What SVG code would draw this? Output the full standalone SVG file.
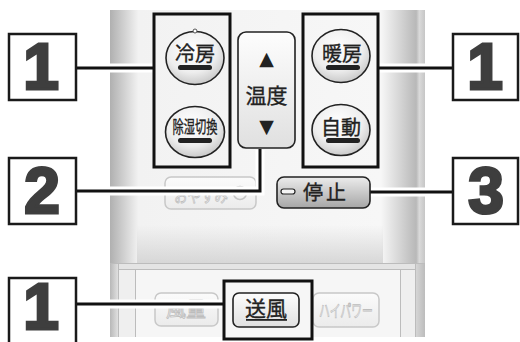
<svg xmlns="http://www.w3.org/2000/svg" width="520" height="342" viewBox="0 0 520 342">
<defs>
<linearGradient id="bodyH" x1="110" y1="0" x2="425" y2="0" gradientUnits="userSpaceOnUse">
<stop offset="0" stop-color="#b0b0b0"/>
<stop offset="0.09" stop-color="#f2f2f2"/>
<stop offset="0.86" stop-color="#f7f7f7"/>
<stop offset="0.972" stop-color="#b8b8b8"/>
<stop offset="0.982" stop-color="#dadada"/>
<stop offset="1" stop-color="#c6c6c6"/>
</linearGradient>
<linearGradient id="bodyV" x1="0" y1="225" x2="0" y2="263" gradientUnits="userSpaceOnUse">
<stop offset="0" stop-color="#d0d0d0" stop-opacity="0"/>
<stop offset="1" stop-color="#d0d0d0" stop-opacity="0.8"/>
</linearGradient>
<linearGradient id="sideL" x1="0" y1="0" x2="1" y2="0">
<stop offset="0" stop-color="#b8b8b8"/>
<stop offset="1" stop-color="#e0e0e0"/>
</linearGradient>
<linearGradient id="sideR" x1="0" y1="0" x2="1" y2="0">
<stop offset="0" stop-color="#d8d8d8"/>
<stop offset="1" stop-color="#bcbcbc"/>
</linearGradient>
<radialGradient id="btnR" cx="0.45" cy="0.35" r="0.7">
<stop offset="0" stop-color="#ffffff"/>
<stop offset="0.6" stop-color="#eeeeee"/>
<stop offset="1" stop-color="#c2c2c2"/>
</radialGradient>
<linearGradient id="btnL" x1="0" y1="0" x2="0" y2="1">
<stop offset="0" stop-color="#fdfdfd"/>
<stop offset="1" stop-color="#e0e0e0"/>
</linearGradient>
<linearGradient id="stopG" x1="0" y1="0" x2="0" y2="1">
<stop offset="0" stop-color="#ececec"/>
<stop offset="1" stop-color="#a6a6a6"/>
</linearGradient>
<linearGradient id="fadeG" x1="0" y1="0" x2="0" y2="1">
<stop offset="0" stop-color="#fbfbfb"/>
<stop offset="1" stop-color="#ebebeb"/>
</linearGradient>
</defs>
<style>
.lbl{fill:#fff;stroke:#1a1a1a;stroke-width:2.5}
.num{font-family:"Liberation Sans",Arial,sans-serif;font-weight:bold;font-size:64px;fill:#3e3e3e;stroke:#3e3e3e;stroke-width:3;text-anchor:middle}
.grp{fill:none;stroke:#111;stroke-width:3}
.halo{fill:none;stroke:#fff;stroke-width:9}
.wire{fill:none;stroke:#111;stroke-width:3}
.cbtn{fill:url(#btnR);stroke:#222;stroke-width:1.6}
.bar{fill:#222}
.jp{font-family:"Noto Sans CJK JP",sans-serif;fill:#222;stroke:#222;stroke-width:0.35;text-anchor:middle;dominant-baseline:central}
.sym{font-family:"DejaVu Sans",sans-serif;fill:#222;text-anchor:middle;dominant-baseline:central}
.fade{fill:url(#fadeG);stroke:#c8c8c8;stroke-width:1.5}
.ftx{font-family:"Noto Sans CJK JP",sans-serif;fill:#f4f4f4;stroke:#bdbdbd;stroke-width:0.8;text-anchor:middle;dominant-baseline:central}
.pl{stroke:#bcbcbc;stroke-width:1;fill:none}
</style>

<g id="remote-body">
<rect x="110" y="10" width="315" height="253" fill="url(#bodyH)"/>
<rect x="137" y="225" width="246" height="38" fill="url(#bodyV)"/>
<rect x="110" y="263" width="315" height="74" fill="#f6f6f6"/>
<rect x="110" y="263" width="315" height="6" fill="#e4e4e4"/>
<rect x="110" y="263" width="8" height="74" fill="url(#sideL)"/>
<rect x="118" y="269" width="17" height="68" fill="#efefef"/>
<rect x="400" y="269" width="15" height="68" fill="#efefef"/>
<rect x="415" y="263" width="10" height="74" fill="url(#sideR)"/>
<line class="pl" x1="110" y1="263.5" x2="425" y2="263.5" stroke="#aaa"/>
<line class="pl" x1="118" y1="269.5" x2="415" y2="269.5"/>
<line class="pl" x1="118.5" y1="263" x2="118.5" y2="337"/>
<line class="pl" x1="135.5" y1="269" x2="135.5" y2="337"/>
<line class="pl" x1="400.5" y1="269" x2="400.5" y2="337"/>
<line class="pl" x1="415.5" y1="263" x2="415.5" y2="337"/>
</g>

<g id="btn-oyasumi">
<rect class="fade" x="165" y="177" width="91" height="32" rx="6"/>
<text class="ftx" x="201" y="194" font-size="17" textLength="54" lengthAdjust="spacingAndGlyphs">おやすみ</text>
<circle cx="240" cy="193" r="6.5" fill="none" stroke="#c4c4c4" stroke-width="1.5"/>
</g>
<g id="btn-fuuryou">
<rect class="fade" x="155" y="293" width="63" height="33" rx="6"/>
<text class="ftx" x="186" y="308" font-size="20">風量</text>
</g>
<g id="btn-highpower">
<rect class="fade" x="313" y="293" width="66" height="34" rx="6"/>
<text class="ftx" x="346" y="309" font-size="17" textLength="54" lengthAdjust="spacingAndGlyphs">ハイパワー</text>
</g>

<g id="connectors">
<path class="halo" d="M76 68H153"/>
<path class="wire" d="M76 68H153"/>
<path class="halo" d="M378 68H453"/>
<path class="wire" d="M378 68H453"/>
<path class="halo" d="M76 191H260V150"/>
<path class="wire" d="M76 191H260V149"/>
<path class="halo" d="M370 192H453"/>
<path class="wire" d="M370 192H453"/>
<path class="halo" d="M76 304H224"/>
<path class="wire" d="M76 304H224"/>
</g>

<g id="label-1-left">
<rect class="lbl" x="9" y="34" width="67" height="66"/>
<text class="num" x="41" y="89">1</text>
</g>
<g id="label-1-right">
<rect class="lbl" x="453" y="34" width="65" height="66"/>
<text class="num" x="485" y="89">1</text>
</g>
<g id="label-2">
<rect class="lbl" x="9" y="158" width="67" height="66"/>
<text class="num" x="42" y="213">2</text>
</g>
<g id="label-3">
<rect class="lbl" x="453" y="158" width="65" height="66"/>
<text class="num" x="486" y="213">3</text>
</g>
<g id="label-1-bottom">
<rect class="lbl" x="9" y="278" width="67" height="70"/>
<text class="num" x="41" y="329" font-size="62">1</text>
</g>

<g id="group-left">
<rect class="grp" x="154" y="14" width="76" height="153"/>
</g>
<g id="group-right">
<rect class="grp" x="303" y="14" width="75" height="153"/>
</g>
<g id="group-bottom">
<rect class="grp" x="224" y="281" width="88" height="58"/>
</g>

<g id="btn-reibou">
<ellipse class="cbtn" cx="195" cy="58" rx="29" ry="26.5"/>
<circle cx="195" cy="31" r="2" fill="#fff" stroke="#555" stroke-width="1"/>
<text class="jp" x="195" y="52" font-size="20">冷房</text>
<rect class="bar" x="178" y="65" width="34" height="5" rx="2.5"/>
</g>
<g id="btn-joshitsu">
<ellipse class="cbtn" cx="195" cy="132" rx="29.5" ry="25.5"/>
<text class="jp" x="195" y="125" font-size="17" textLength="45" lengthAdjust="spacingAndGlyphs">除湿切換</text>
<rect class="bar" x="178" y="138" width="34" height="5" rx="2.5"/>
</g>
<g id="btn-ondo">
<rect x="238" y="32" width="57" height="116" rx="8" fill="url(#btnL)" stroke="#222" stroke-width="1.6"/>
<text class="sym" x="266.5" y="58" font-size="19">▲</text>
<text class="jp" x="266.5" y="94" font-size="21">温度</text>
<text class="sym" x="266.5" y="126" font-size="19">▼</text>
</g>
<g id="btn-danbou">
<ellipse class="cbtn" cx="341" cy="56" rx="29" ry="26.5"/>
<text class="jp" x="342" y="52" font-size="20">暖房</text>
<rect class="bar" x="326" y="65" width="34" height="5" rx="2.5"/>
</g>
<g id="btn-jidou">
<ellipse class="cbtn" cx="341" cy="130" rx="29" ry="25.5"/>
<text class="jp" x="341" y="126" font-size="20">自動</text>
<rect class="bar" x="326" y="138" width="34" height="5" rx="2.5"/>
</g>
<g id="btn-teishi">
<rect x="277" y="177" width="93" height="31" rx="7" fill="url(#stopG)" stroke="#222" stroke-width="1.6"/>
<rect x="281" y="189" width="14" height="5" rx="2.5" fill="#f4f4f4" stroke="#222" stroke-width="1.2"/>
<text class="jp" x="326" y="191" font-size="20" letter-spacing="3">停止</text>
</g>
<g id="btn-soufuu">
<rect x="233" y="293" width="66" height="34" rx="6" fill="url(#btnL)" stroke="#222" stroke-width="1.6"/>
<text class="jp" x="266" y="307" font-size="21">送風</text>
<rect x="246" y="319" width="41" height="1.8" fill="#222"/>
</g>
</svg>
